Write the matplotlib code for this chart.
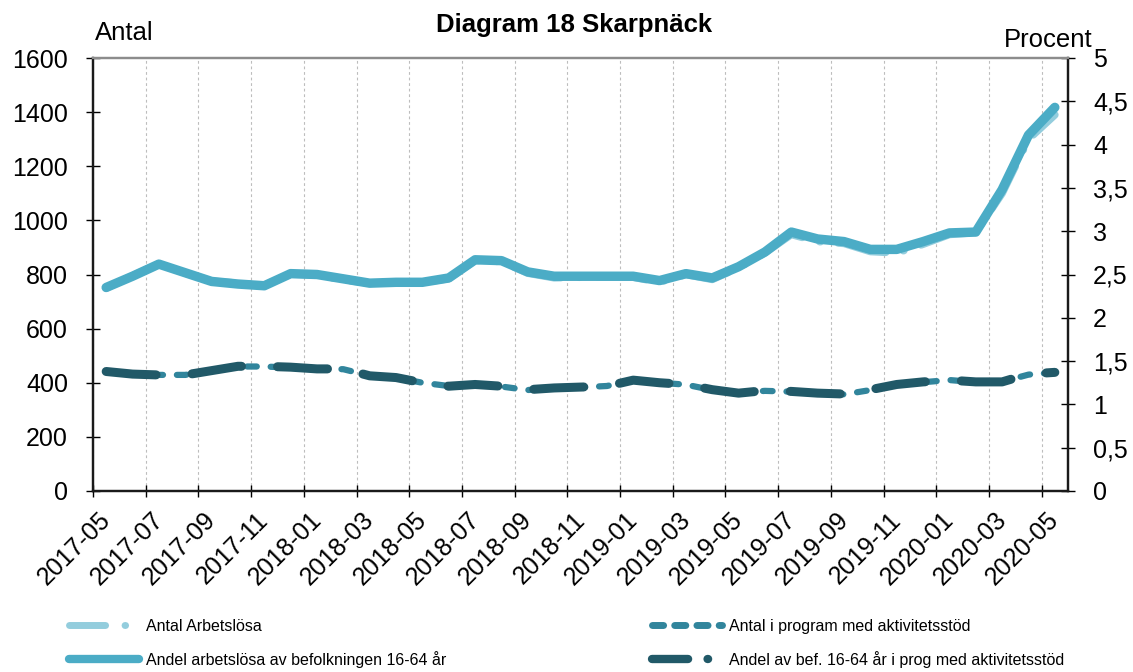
import matplotlib.pyplot as plt
import numpy as np
from matplotlib.lines import Line2D
from matplotlib.ticker import FixedLocator, FuncFormatter
from matplotlib.transforms import ScaledTranslation

plt.rcParams['font.family'] = ['Liberation Sans', 'DejaVu Sans']
plt.rcParams['lines.scale_dashes'] = False

# monthly data 2017-05 .. 2020-05 (37 months), labels every second month
tick_labels = ["2017-05", "2017-07", "2017-09", "2017-11", "2018-01", "2018-03",
               "2018-05", "2018-07", "2018-09", "2018-11", "2019-01", "2019-03",
               "2019-05", "2019-07", "2019-09", "2019-11", "2020-01", "2020-03",
               "2020-05"]

antal_arbetslosa = [750, 795, 840, 805, 775, 768, 760, 802, 798, 780, 768, 770,
                    770, 785, 852, 848, 805, 788, 790, 792, 790, 772, 800, 782,
                    825, 880, 948, 922, 915, 885, 880, 912, 948, 955, 1100, 1300,
                    1390]
andel_arbetslosa = [2.35, 2.48, 2.62, 2.52, 2.42, 2.39, 2.37, 2.51, 2.50, 2.45,
                    2.40, 2.41, 2.41, 2.46, 2.67, 2.66, 2.53, 2.48, 2.48, 2.48,
                    2.48, 2.43, 2.51, 2.46, 2.59, 2.76, 2.99, 2.91, 2.88, 2.79,
                    2.79, 2.88, 2.98, 2.99, 3.48, 4.11, 4.43]
antal_program = [441, 432, 429, 429, 445, 460, 460, 456, 452, 450, 426, 419, 400,
                 388, 395, 386, 373, 382, 383, 388, 408, 400, 393, 373, 363, 370,
                 367, 363, 357, 373, 394, 402, 410, 402, 404, 430, 438]
andel_program = [1.38, 1.35, 1.34, 1.34, 1.39, 1.44, 1.44, 1.43, 1.41, 1.41,
                 1.33, 1.31, 1.25, 1.21, 1.23, 1.21, 1.17, 1.19, 1.20, 1.21,
                 1.28, 1.25, 1.23, 1.17, 1.13, 1.16, 1.15, 1.13, 1.12, 1.17,
                 1.23, 1.26, 1.28, 1.26, 1.26, 1.35, 1.37]

C_LIGHT = "#93cddd"
C_MID = "#4bacc6"
C_TEAL = "#31859c"
C_DARK = "#215968"

x = np.arange(len(antal_arbetslosa))

fig = plt.figure(figsize=(11.33, 6.72), dpi=100)
ax = fig.add_axes([93 / 1133, 1 - 491 / 672, 975 / 1133, 433 / 672])
ax2 = ax.twinx()

ax.plot(x, antal_arbetslosa, color=C_LIGHT, lw=5.5, linestyle=(0, (35, 13, 0.4, 13)),
        dash_capstyle="round", zorder=2)
ax.plot(x, antal_program, color=C_TEAL, lw=4.5, linestyle=(0, (7, 10)),
        dash_capstyle="round", zorder=2)
ax2.plot(x, andel_arbetslosa, color=C_MID, lw=6.8, solid_capstyle="round",
         solid_joinstyle="round", zorder=3)
ax2.plot(x, andel_program, color=C_DARK, lw=6.5, linestyle=(0, (36, 26)),
         dash_capstyle="round", zorder=3)

ax.set_xlim(-0.5, len(x) - 0.5)
ax.set_ylim(0, 1600)
ax2.set_ylim(0, 5)

# x axis: tick marks between categories, labels on every second month
ax.xaxis.set_major_locator(FixedLocator(np.arange(-0.5, len(x) - 1, 2)))
ax.xaxis.set_major_formatter(FuncFormatter(lambda v, p: ""))
ax.xaxis.set_minor_locator(FixedLocator(np.arange(0, len(x), 2)))
ax.set_xticklabels(tick_labels, minor=True, rotation=45, ha="right")
ax.tick_params(axis="x", which="major", direction="inout", length=9, width=1)
ax.tick_params(axis="x", which="minor", length=0, pad=12, labelsize=18)
shift = ScaledTranslation(9 / 100, 0, fig.dpi_scale_trans)
for lab in ax.xaxis.get_minorticklabels():
    lab.set_transform(lab.get_transform() + shift)
ax.grid(axis="x", which="major", linestyle=(0, (2, 2)), color="#bdbdbd", lw=0.8)

ax.set_yticks(np.arange(0, 1601, 200))
ax.tick_params(axis="y", direction="inout", length=10, width=1, pad=13,
               labelsize=18)
ax2.set_yticks(np.arange(0, 5.01, 0.5))
ax2.yaxis.set_major_formatter(FuncFormatter(lambda v, p: f"{v:g}".replace(".", ",")))
ax2.tick_params(axis="y", direction="inout", length=10, width=1, pad=13,
                labelsize=18)

for a in (ax, ax2):
    for side in ("left", "bottom", "right"):
        a.spines[side].set_color("#1a1a1a")
        a.spines[side].set_linewidth(1.6)
    a.spines["top"].set_color("#8c8c8c")
    a.spines["top"].set_linewidth(1.6)

fig.text(574 / 1133, 1 - 25 / 672, "Diagram 18 Skarpnäck", ha="center",
         va="center", fontsize=18.5, fontweight="bold")
fig.text(95 / 1133, 1 - 33 / 672, "Antal", ha="left", va="center", fontsize=18.5)
fig.text(1093 / 1133, 1 - 40 / 672, "Procent", ha="right", va="center",
         fontsize=18.5)

leg_dot = (0, (26, 14, 0.4, 14))
h1 = [Line2D([], [], color=C_LIGHT, lw=5, linestyle=leg_dot, dash_capstyle="round"),
      Line2D([], [], color=C_MID, lw=6, solid_capstyle="round")]
h2 = [Line2D([], [], color=C_TEAL, lw=5, linestyle=(0, (8, 8)), dash_capstyle="round"),
      Line2D([], [], color=C_DARK, lw=6, linestyle=leg_dot, dash_capstyle="round")]
kw = dict(loc="upper left", frameon=False, fontsize=11.5, handlelength=4.4,
          handletextpad=0.45, labelspacing=1.05, borderpad=0, borderaxespad=0)
fig.legend(h1, ["Antal Arbetslösa", "Andel arbetslösa av befolkningen 16-64 år"],
           bbox_to_anchor=(69 / 1133, 1 - 619 / 672), **kw)
fig.legend(h2, ["Antal i program med aktivitetsstöd",
                "Andel av bef. 16-64 år i prog med aktivitetsstöd"],
           bbox_to_anchor=(652 / 1133, 1 - 619 / 672), **kw)

fig.savefig("out.png", dpi=100)
